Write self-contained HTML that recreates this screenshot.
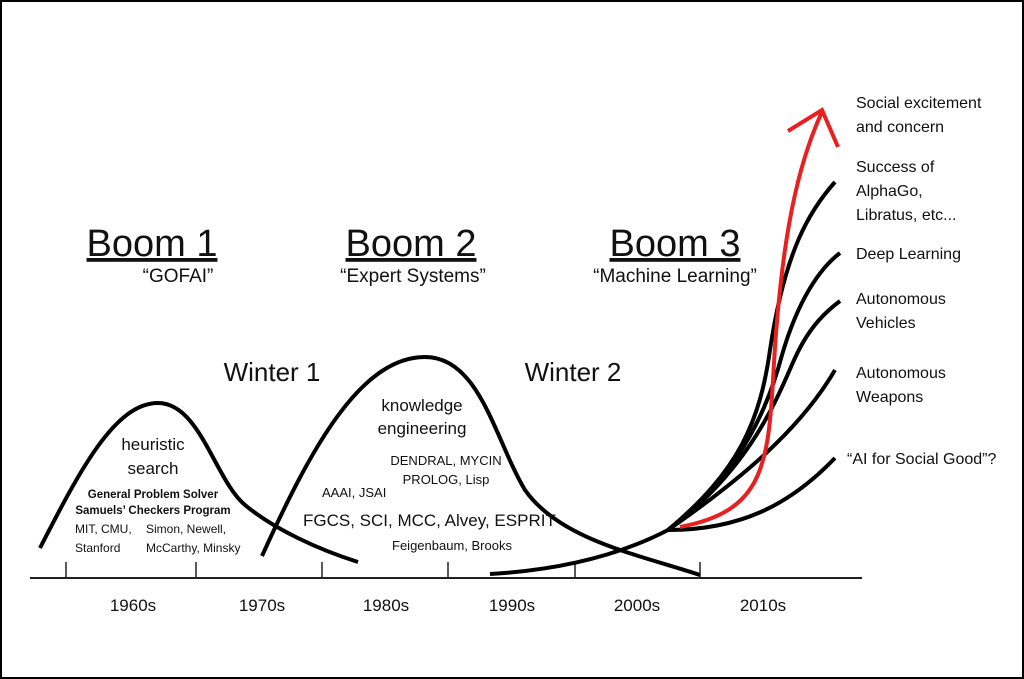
<!DOCTYPE html>
<html><head><meta charset="utf-8"><style>
html,body{margin:0;padding:0;background:#fff}
svg{display:block}
text{font-family:"Liberation Sans",sans-serif;fill:#111}
</style></head><body>
<svg width="1024" height="679" viewBox="0 0 1024 679" xmlns="http://www.w3.org/2000/svg">
<rect x="1" y="1" width="1022" height="677" fill="#fff" stroke="#000" stroke-width="2"/>
<line x1="30" y1="578" x2="862" y2="578" stroke="#222" stroke-width="2"/>
<g stroke="#222" stroke-width="1.5">
<line x1="66" y1="562" x2="66" y2="578"/><line x1="196" y1="562" x2="196" y2="578"/>
<line x1="322" y1="562" x2="322" y2="578"/><line x1="448" y1="562" x2="448" y2="578"/>
<line x1="575" y1="562" x2="575" y2="578"/><line x1="700" y1="562" x2="700" y2="578"/>
</g>
<g font-size="17" text-anchor="middle">
<text x="133" y="611">1960s</text><text x="262" y="611">1970s</text><text x="386" y="611">1980s</text>
<text x="512" y="611">1990s</text><text x="637" y="611">2000s</text><text x="763" y="611">2010s</text>
</g>
<g fill="none" stroke="#000" stroke-width="4" stroke-linecap="butt">
<path d="M40,548 C80,470 115,403 158,403 C200,403 215,480 245,505 C275,530 320,550 358,562"/>
<path d="M262,556 C310,450 360,357 425,357 C480,357 495,440 525,490 C560,540 640,555 700,575"/>
<path d="M490,574 C560,570 620,555 668,530"/>
<path d="M668,530 C740,470 760,420 770,350 C785,250 810,210 835,182"/>
<path d="M668,530 C745,470 770,400 782,355 C798,300 820,268 840,253"/>
<path d="M668,530 C755,465 780,390 795,358 C810,325 828,310 840,301"/>
<path d="M668,530 C740,480 800,430 835,370"/>
<path d="M668,530 C740,530 790,505 835,458"/>
</g>
<g fill="none" stroke="#e8201f" stroke-width="4">
<path d="M680,527 C760,512 768,470 773,380 C780,250 795,170 822,112"/>
<path d="M788,131 L822,110 L838,147"/>
</g>
<g text-anchor="middle">
<text x="152" y="256" font-size="38" text-decoration="underline">Boom 1</text>
<text x="178" y="282" font-size="19">“GOFAI”</text>
<text x="411" y="256" font-size="38" text-decoration="underline">Boom 2</text>
<text x="413" y="282" font-size="19">“Expert Systems”</text>
<text x="675" y="256" font-size="38" text-decoration="underline">Boom 3</text>
<text x="675" y="282" font-size="19">“Machine Learning”</text>
<text x="272" y="381" font-size="26">Winter 1</text>
<text x="573" y="381" font-size="26">Winter 2</text>
<text x="153" y="450" font-size="17">heuristic</text>
<text x="153" y="474" font-size="17">search</text>
<text x="153" y="498" font-size="11.5" font-weight="bold">General Problem Solver</text>
<text x="153" y="514" font-size="11.5" font-weight="bold">Samuels’ Checkers Program</text>
<text x="422" y="411" font-size="17">knowledge</text>
<text x="422" y="434" font-size="17">engineering</text>
<text x="446" y="465" font-size="13">DENDRAL, MYCIN</text>
<text x="446" y="484" font-size="13">PROLOG, Lisp</text>
<text x="452" y="550" font-size="13">Feigenbaum, Brooks</text>
</g>
<g font-size="12">
<text x="75" y="533">MIT, CMU,</text><text x="75" y="552">Stanford</text>
<text x="146" y="533">Simon, Newell,</text><text x="146" y="552">McCarthy, Minsky</text>
</g>
<text x="322" y="497" font-size="13">AAAI, JSAI</text>
<text x="303" y="526" font-size="17">FGCS, SCI, MCC, Alvey, ESPRIT</text>
<g font-size="16">
<text x="856" y="108">Social excitement</text><text x="856" y="132">and concern</text>
<text x="856" y="172">Success of</text><text x="856" y="196">AlphaGo,</text><text x="856" y="220">Libratus, etc...</text>
<text x="856" y="259">Deep Learning</text>
<text x="856" y="304">Autonomous</text><text x="856" y="328">Vehicles</text>
<text x="856" y="378">Autonomous</text><text x="856" y="402">Weapons</text>
<text x="847" y="464">“AI for Social Good”?</text>
</g>
</svg>
</body></html>
